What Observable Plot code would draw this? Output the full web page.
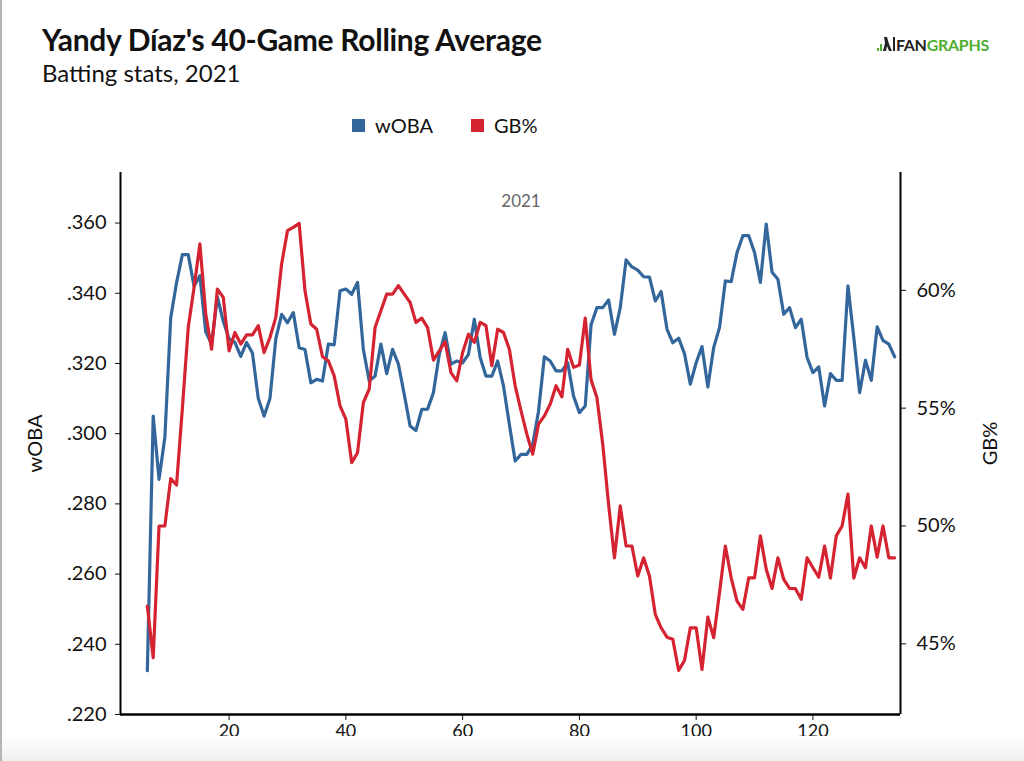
<!DOCTYPE html>
<html>
<head>
<meta charset="utf-8">
<script src="https://cdn.jsdelivr.net/npm/d3@7"></script>
<script src="https://cdn.jsdelivr.net/npm/@observablehq/plot@0.6"></script>
<style>
  html, body { margin: 0; padding: 0; background: #fff; }
  #wrap { position: relative; width: 1024px; height: 761px; overflow: hidden; font-family: Lato, "Open Sans", sans-serif; color: #111; border-left: 2px solid #b5b5b5; box-sizing: border-box; }
  #title { position: absolute; left: 40px; top: 21px; font-size: 30px; font-weight: 700; letter-spacing: -0.3px; color: #111; white-space: nowrap; }
  #subtitle { position: absolute; left: 40px; top: 58px; font-size: 24px; font-weight: 400; color: #111; white-space: nowrap; }
  #logo { position: absolute; left: 874px; top: 35px; height: 18px; display: flex; align-items: center; font-size: 16px; font-weight: 700; letter-spacing: -0.3px; white-space: nowrap; }
  #logo .fan { color: #222; }
  #logo .graphs { color: #4fae2f; }
  #legend { position: absolute; left: 350px; top: 113px; display: flex; font-size: 20px; }
  #legend .item { display: flex; align-items: center; margin-right: 38px; }
  #legend .sw { width: 13px; height: 13px; margin-right: 10px; }
  #chart { position: absolute; left: -2px; top: 150px; }
  #foot { position: absolute; left: 0; top: 736px; width: 1024px; height: 25px; background: linear-gradient(#ffffff, #efefef); }
</style>
</head>
<body>
<div id="wrap">
  <div id="title">Yandy Díaz's 40-Game Rolling Average</div>
  <div id="subtitle">Batting stats, 2021</div>
  <div id="logo">
    <svg width="20" height="18" viewBox="0 0 20 18">
      <rect x="1" y="13" width="2" height="3" fill="#4fae2f"/>
      <rect x="4" y="9" width="2" height="7" fill="#4fae2f"/>
      <path d="M8 2 L11 2 L13 9 L16 16 L13 16 L11 11 L10 16 L7 16 L9 8 Z" fill="#222"/>
      <rect x="17" y="2" width="2" height="14" fill="#222"/>
    </svg>
    <span class="fan">FAN</span><span class="graphs">GRAPHS</span>
  </div>
  <div id="legend"></div>
  <div id="chart"></div>
  <div id="foot"></div>
</div>
<script>
// ---- data (40-game rolling averages, game number 6..134) ----
const firstGame = 6;
const seriesNames = ["wOBA", "GB%"];
const seriesColors = ["#33679b", "#d42331"];
const woba = [
  0.2325, 0.305, 0.287, 0.299, 0.333, 0.343, 0.351, 0.351, 0.342, 0.345,
  0.329, 0.3255, 0.339, 0.332, 0.327, 0.326, 0.322, 0.326, 0.323, 0.310,
  0.305, 0.310, 0.327, 0.334, 0.3316, 0.3345, 0.3245, 0.324, 0.3145, 0.3155,
  0.315, 0.3255, 0.3253, 0.3407, 0.3412, 0.3397, 0.3431, 0.324, 0.315, 0.3164,
  0.3255, 0.3171, 0.324, 0.3198, 0.3112, 0.3022, 0.3009, 0.3069, 0.307, 0.3117,
  0.3226, 0.3288, 0.3198, 0.3207, 0.3202, 0.3226, 0.3326, 0.3217, 0.3164, 0.3164,
  0.3207, 0.3136, 0.3027, 0.2922, 0.2941, 0.2941, 0.2969, 0.3064, 0.3219, 0.3207,
  0.3179, 0.3179, 0.3202, 0.3107, 0.306, 0.3079, 0.331, 0.3359, 0.3359, 0.3381,
  0.3283, 0.3359, 0.3495, 0.3475, 0.3466, 0.3447, 0.3446, 0.3378, 0.3405, 0.3298,
  0.3259, 0.3272, 0.3228, 0.3141, 0.3202, 0.3248, 0.3133, 0.3245, 0.3302, 0.3435,
  0.3433, 0.3516, 0.3564, 0.3564, 0.3516, 0.3431, 0.3597, 0.346, 0.344, 0.334,
  0.3359, 0.3302, 0.3326, 0.3217, 0.3174, 0.319, 0.3079, 0.3171, 0.3152, 0.3152,
  0.3421, 0.3274, 0.3117, 0.3209, 0.3152, 0.3304, 0.3266, 0.3255, 0.3219
];
const gbPct = [
  46.6, 44.41, 50.0, 50.0, 52.01, 51.74, 55.0, 58.42, 60.12, 61.97,
  59.0, 57.5, 60.05, 59.7, 57.43, 58.21, 57.72, 58.11, 58.11, 58.5,
  57.36, 58.0, 58.85, 61.12, 62.53, 62.67, 62.84, 59.98, 58.57, 58.35,
  57.18, 57.01, 56.37, 55.1, 54.53, 52.69, 53.11, 55.24, 55.81, 58.42,
  59.13, 59.84, 59.84, 60.2, 59.84, 59.49, 58.64, 58.82, 58.42, 57.04,
  57.43, 57.82, 56.51, 56.16, 57.36, 58.14, 57.79, 58.64, 58.5, 56.8,
  58.35, 58.21, 57.5, 55.95, 54.89, 53.9, 53.05, 54.32, 54.67, 55.17,
  55.95, 55.48, 57.5, 56.73, 56.83, 58.82, 56.2, 55.45, 53.47, 50.92,
  48.65, 50.85, 49.15, 49.15, 47.88, 48.65, 47.88, 46.25, 45.68, 45.28,
  45.19, 43.87, 44.29, 45.68, 45.68, 43.91, 46.13, 45.26, 47.17, 49.15,
  47.8, 46.81, 46.46, 47.8, 47.8, 49.58, 48.16, 47.35, 48.65, 47.73,
  47.35, 47.34, 46.89, 48.65, 48.23, 47.83, 49.15, 47.79, 49.58, 50.0,
  51.35, 47.79, 48.65, 48.23, 50.0, 48.68, 50.0, 48.65, 48.65
];
const xTicks = [20, 40, 60, 80, 100, 120];
const wobaTicks = [0.22, 0.24, 0.26, 0.28, 0.30, 0.32, 0.34, 0.36];
const gbTicks = [45, 50, 55, 60];
const facetLabel = "2021";

// ---- scales ----
const xDomain = [1.4, 135];
const wobaDomain = [0.22, 0.3744];
const gbDomain = [42, 65];
const toLeft = p => wobaDomain[0] + (p - gbDomain[0]) / (gbDomain[1] - gbDomain[0]) * (wobaDomain[1] - wobaDomain[0]);
const toRight = v => gbDomain[0] + (v - wobaDomain[0]) / (wobaDomain[1] - wobaDomain[0]) * (gbDomain[1] - gbDomain[0]);

const games = woba.map((_, i) => firstGame + i);
const rows = games.map((g, i) => ({game: g, woba: woba[i], gb: gbPct[i]}));

// legend
const legend = document.getElementById("legend");
seriesNames.forEach((n, i) => {
  const it = document.createElement("div");
  it.className = "item";
  it.innerHTML = `<span class="sw" style="background:${seriesColors[i]}"></span><span>${n}</span>`;
  legend.appendChild(it);
});

const chart = Plot.plot({
  width: 1024,
  height: 611,
  marginTop: 22,
  marginBottom: 47,
  marginLeft: 120,
  marginRight: 124,
  style: {fontFamily: "Lato, 'Open Sans', sans-serif", fontSize: "18px", color: "#111", background: "transparent", overflow: "visible"},
  x: {domain: xDomain},
  y: {domain: wobaDomain},
  marks: [
    Plot.axisX({ticks: xTicks, tickSize: 6, tickPadding: 4, tickFormat: d => String(d), label: null, fontSize: 18}),
    Plot.axisY({anchor: "left", ticks: wobaTicks, tickSize: 5, tickPadding: 9, tickFormat: d => d3.format(".3f")(d).replace(/^0/, ""), label: null, fontSize: 20}),
    Plot.axisY({anchor: "right", ticks: gbTicks.map(toLeft), tickSize: 5, tickPadding: 11, tickFormat: d => Math.round(toRight(d)) + "%", label: null, fontSize: 20}),
    Plot.text(["wOBA"], {frameAnchor: "left", dx: -85, rotate: -90, textAnchor: "middle", text: d => d, fontSize: 20, fill: "#111"}),
    Plot.text(["GB%"], {frameAnchor: "right", dx: 90, rotate: -90, textAnchor: "middle", text: d => d, fontSize: 20, fill: "#111"}),
    Plot.text([facetLabel], {x: (games[0] + games[games.length - 1]) / 2, frameAnchor: "top", dy: 22, text: d => d, fontSize: 17, fill: "#666"}),
    Plot.ruleX(xDomain, {stroke: "#000", strokeWidth: 2}),
    Plot.ruleY([wobaDomain[0]], {stroke: "#000", strokeWidth: 2.5}),
    Plot.lineY(rows, {x: "game", y: "woba", stroke: seriesColors[0], strokeWidth: 3.2, strokeLinejoin: "round"}),
    Plot.lineY(rows, {x: "game", y: d => toLeft(d.gb), stroke: seriesColors[1], strokeWidth: 3.2, strokeLinejoin: "round"})
  ]
});
document.getElementById("chart").appendChild(chart);
</script>
</body>
</html>
